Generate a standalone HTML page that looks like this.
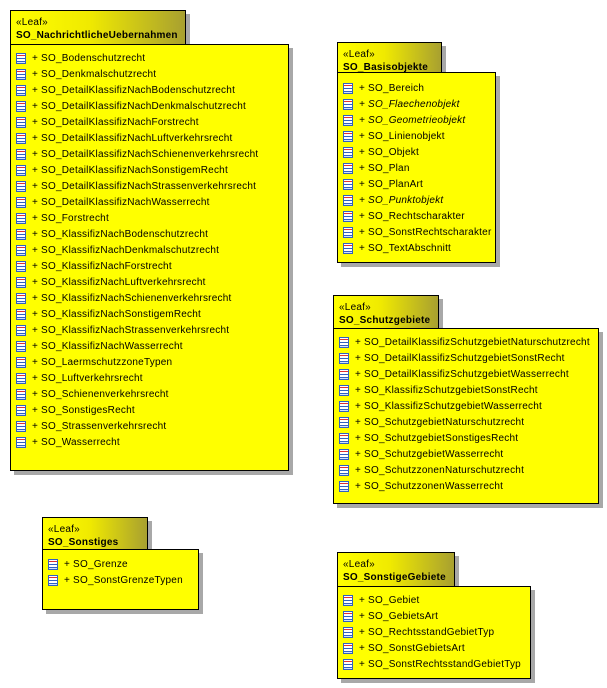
<!DOCTYPE html>
<html><head><meta charset="utf-8"><style>
body{margin:0;width:607px;height:688px;background:#fff;position:relative;overflow:hidden;font-family:"Liberation Sans",Arial,sans-serif;font-size:10px;color:#000;letter-spacing:0.22px}
.tab,.body{position:absolute;border:1px solid #000;box-sizing:border-box;box-shadow:4px 4px 0 #a8a8a8}
.tab{background:linear-gradient(90deg,#ffff00 0%,#f0ea00 45%,#a8a030 100%);padding:5px 0 0 5px;line-height:13px}
.tab b{font-weight:bold}
.body{background:#ffff00}
.r{position:absolute;left:5px;height:16px;line-height:16px;white-space:nowrap;margin-top:1px}
.r i{display:inline-block;width:10px;height:11px;border:1px solid #3060c0;background:linear-gradient(#fff 0 1px,#e03030 1px 2px,#fff 2px 4px,#3060c0 4px 5px,#fff 5px 7px,#3060c0 7px 8px,#d0e0ff 8px);vertical-align:-3px;margin-right:6px;box-sizing:border-box}
.it{font-style:italic}
</style></head><body>

<div class="tab" style="left:10px;top:10px;width:176px;height:35px">«Leaf»<br><b>SO_NachrichtlicheUebernahmen</b></div>
<div class="body" style="left:10px;top:44px;width:279px;height:427px">
<div class="r" style="top:5px"><i></i>+ SO_Bodenschutzrecht</div>
<div class="r" style="top:21px"><i></i>+ SO_Denkmalschutzrecht</div>
<div class="r" style="top:37px"><i></i>+ SO_DetailKlassifizNachBodenschutzrecht</div>
<div class="r" style="top:53px"><i></i>+ SO_DetailKlassifizNachDenkmalschutzrecht</div>
<div class="r" style="top:69px"><i></i>+ SO_DetailKlassifizNachForstrecht</div>
<div class="r" style="top:85px"><i></i>+ SO_DetailKlassifizNachLuftverkehrsrecht</div>
<div class="r" style="top:101px"><i></i>+ SO_DetailKlassifizNachSchienenverkehrsrecht</div>
<div class="r" style="top:117px"><i></i>+ SO_DetailKlassifizNachSonstigemRecht</div>
<div class="r" style="top:133px"><i></i>+ SO_DetailKlassifizNachStrassenverkehrsrecht</div>
<div class="r" style="top:149px"><i></i>+ SO_DetailKlassifizNachWasserrecht</div>
<div class="r" style="top:165px"><i></i>+ SO_Forstrecht</div>
<div class="r" style="top:181px"><i></i>+ SO_KlassifizNachBodenschutzrecht</div>
<div class="r" style="top:197px"><i></i>+ SO_KlassifizNachDenkmalschutzrecht</div>
<div class="r" style="top:213px"><i></i>+ SO_KlassifizNachForstrecht</div>
<div class="r" style="top:229px"><i></i>+ SO_KlassifizNachLuftverkehrsrecht</div>
<div class="r" style="top:245px"><i></i>+ SO_KlassifizNachSchienenverkehrsrecht</div>
<div class="r" style="top:261px"><i></i>+ SO_KlassifizNachSonstigemRecht</div>
<div class="r" style="top:277px"><i></i>+ SO_KlassifizNachStrassenverkehrsrecht</div>
<div class="r" style="top:293px"><i></i>+ SO_KlassifizNachWasserrecht</div>
<div class="r" style="top:309px"><i></i>+ SO_LaermschutzzoneTypen</div>
<div class="r" style="top:325px"><i></i>+ SO_Luftverkehrsrecht</div>
<div class="r" style="top:341px"><i></i>+ SO_Schienenverkehrsrecht</div>
<div class="r" style="top:357px"><i></i>+ SO_SonstigesRecht</div>
<div class="r" style="top:373px"><i></i>+ SO_Strassenverkehrsrecht</div>
<div class="r" style="top:389px"><i></i>+ SO_Wasserrecht</div>
</div>

<div class="tab" style="left:337px;top:42px;width:105px;height:31px">«Leaf»<br><b>SO_Basisobjekte</b></div>
<div class="body" style="left:337px;top:72px;width:159px;height:191px">
<div class="r" style="top:7px"><i></i>+ SO_Bereich</div>
<div class="r it" style="top:23px"><i></i>+ SO_Flaechenobjekt</div>
<div class="r it" style="top:39px"><i></i>+ SO_Geometrieobjekt</div>
<div class="r" style="top:55px"><i></i>+ SO_Linienobjekt</div>
<div class="r" style="top:71px"><i></i>+ SO_Objekt</div>
<div class="r" style="top:87px"><i></i>+ SO_Plan</div>
<div class="r" style="top:103px"><i></i>+ SO_PlanArt</div>
<div class="r it" style="top:119px"><i></i>+ SO_Punktobjekt</div>
<div class="r" style="top:135px"><i></i>+ SO_Rechtscharakter</div>
<div class="r" style="top:151px"><i></i>+ SO_SonstRechtscharakter</div>
<div class="r" style="top:167px"><i></i>+ SO_TextAbschnitt</div>
</div>

<div class="tab" style="left:333px;top:295px;width:106px;height:34px">«Leaf»<br><b>SO_Schutzgebiete</b></div>
<div class="body" style="left:333px;top:328px;width:266px;height:176px">
<div class="r" style="top:5px"><i></i>+ SO_DetailKlassifizSchutzgebietNaturschutzrecht</div>
<div class="r" style="top:21px"><i></i>+ SO_DetailKlassifizSchutzgebietSonstRecht</div>
<div class="r" style="top:37px"><i></i>+ SO_DetailKlassifizSchutzgebietWasserrecht</div>
<div class="r" style="top:53px"><i></i>+ SO_KlassifizSchutzgebietSonstRecht</div>
<div class="r" style="top:69px"><i></i>+ SO_KlassifizSchutzgebietWasserrecht</div>
<div class="r" style="top:85px"><i></i>+ SO_SchutzgebietNaturschutzrecht</div>
<div class="r" style="top:101px"><i></i>+ SO_SchutzgebietSonstigesRecht</div>
<div class="r" style="top:117px"><i></i>+ SO_SchutzgebietWasserrecht</div>
<div class="r" style="top:133px"><i></i>+ SO_SchutzzonenNaturschutzrecht</div>
<div class="r" style="top:149px"><i></i>+ SO_SchutzzonenWasserrecht</div>
</div>

<div class="tab" style="left:42px;top:517px;width:106px;height:33px">«Leaf»<br><b>SO_Sonstiges</b></div>
<div class="body" style="left:42px;top:549px;width:157px;height:61px">
<div class="r" style="top:6px"><i></i>+ SO_Grenze</div>
<div class="r" style="top:22px"><i></i>+ SO_SonstGrenzeTypen</div>
</div>

<div class="tab" style="left:337px;top:552px;width:118px;height:35px">«Leaf»<br><b>SO_SonstigeGebiete</b></div>
<div class="body" style="left:337px;top:586px;width:194px;height:93px">
<div class="r" style="top:5px"><i></i>+ SO_Gebiet</div>
<div class="r" style="top:21px"><i></i>+ SO_GebietsArt</div>
<div class="r" style="top:37px"><i></i>+ SO_RechtsstandGebietTyp</div>
<div class="r" style="top:53px"><i></i>+ SO_SonstGebietsArt</div>
<div class="r" style="top:69px"><i></i>+ SO_SonstRechtsstandGebietTyp</div>
</div>

</body></html>
